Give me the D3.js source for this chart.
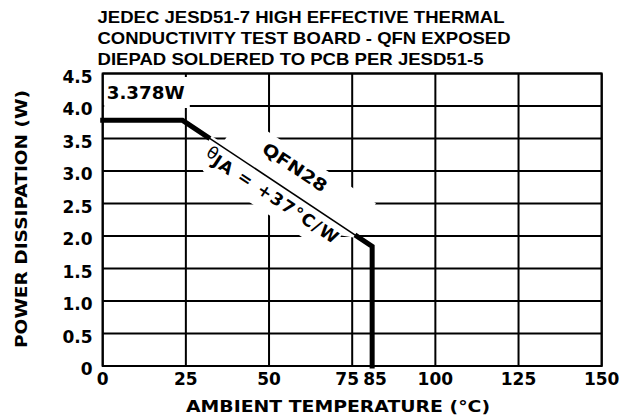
<!DOCTYPE html>
<html>
<head>
<meta charset="utf-8">
<script src="https://cdn.jsdelivr.net/npm/d3@7"></script>
<style>
  html, body { margin: 0; padding: 0; background: #fff; }
  svg { display: block; }
</style>
</head>
<body>
<svg id="chart" width="621" height="420"></svg>
<script>
// ---- data ----
const temps = [0, 24, 81, 81];          // ambient temperature (°C)
const power = [3.78, 3.78, 1.84, 0];    // power dissipation (W)
const xGridValues = [0, 25, 50, 75, 100, 125, 150];
const xLabelValues = [0, 25, 50, 75, 85, 100, 125, 150];
const yTickValues = [0, 0.5, 1.0, 1.5, 2.0, 2.5, 3.0, 3.5, 4.0, 4.5];
const yTickLabels = ["0", "0.5", "1.0", "1.5", "2.0", "2.5", "3.0", "3.5", "4.0", "4.5"];
const titleLines = [
  "JEDEC JESD51-7 HIGH EFFECTIVE THERMAL",
  "CONDUCTIVITY TEST BOARD - QFN EXPOSED",
  "DIEPAD SOLDERED TO PCB PER JESD51-5"
];
const maxLabel = "3.378W";
const packageLabel = "QFN28";
const thetaLabel = { sym: "\u03B8", sub: "JA", rest: " = +37\u00B0C/W" };
const xTitle = "AMBIENT TEMPERATURE (\u00B0C)";
const yTitle = "POWER DISSIPATION (W)";

// ---- layout ----
const svg = d3.select("#chart");
const x = d3.scaleLinear().domain([0, 150]).range([102.7, 601.7]);
const y = d3.scaleLinear().domain([0, 4.5]).range([366, 73.5]);
const tickFont = "'DejaVu Sans', Verdana, sans-serif";
const titleFont = "'Liberation Sans', Arial, Helvetica, sans-serif";

// title
const titleBaselines = [22.7, 44, 65.3];
const titleWidths = [407, 413, 386];
titleLines.forEach((t, i) => {
  svg.append("text")
    .attr("x", 97.5).attr("y", titleBaselines[i])
    .attr("font-family", titleFont).attr("font-weight", "bold")
    .attr("font-size", 17)
    .attr("textLength", titleWidths[i]).attr("lengthAdjust", "spacingAndGlyphs")
    .text(t);
});

// gridlines
const grid = svg.append("g").attr("stroke", "#000").attr("stroke-width", 2);
grid.selectAll("line.h").data(yTickValues).join("line")
  .attr("x1", x(0)).attr("x2", x(150))
  .attr("y1", d => y(d)).attr("y2", d => y(d));
grid.selectAll("line.v").data(xGridValues).join("line")
  .attr("y1", y(0)).attr("y2", y(4.5))
  .attr("x1", d => x(d)).attr("x2", d => x(d));

// white box behind max label
svg.append("rect")
  .attr("x", x(0) + 1.5).attr("y", 77)
  .attr("width", 186 - x(0) + 2.3).attr("height", 31)
  .attr("fill", "#fff");

// thick derating curve
const pts = temps.map((t, i) => [x(t), y(power[i])]);
svg.append("path")
  .attr("d", d3.line()(pts))
  .attr("fill", "none").attr("stroke", "#000")
  .attr("stroke-width", 5).attr("stroke-linecap", "square")
  .attr("stroke-linejoin", "miter");

// slope geometry
const k = pts[1], e = pts[2];
const ang = Math.atan2(e[1] - k[1], e[0] - k[0]) * 180 / Math.PI;
const slopeGroup = svg.append("g")
  .attr("transform", `translate(${k[0]},${k[1]}) rotate(${ang})`);

// white knockout around the slope labels (in rotated frame: u along slope, +v below)
const knock = [[33, -3], [46, -3], [46, -38], [207, -38], [207, 3], [196, 8],
               [196, 31], [45, 31], [33, 3]];
slopeGroup.append("polygon")
  .attr("points", knock.map(p => p.join(",")).join(" "))
  .attr("fill", "#fff");

// thin slope line
svg.append("line")
  .attr("x1", k[0]).attr("y1", k[1]).attr("x2", e[0]).attr("y2", e[1])
  .attr("stroke", "#000").attr("stroke-width", 1.6);

// plot border
svg.append("rect")
  .attr("x", x(0)).attr("y", y(4.5))
  .attr("width", x(150) - x(0)).attr("height", y(0) - y(4.5))
  .attr("fill", "none").attr("stroke", "#000").attr("stroke-width", 2);

// slope labels
slopeGroup.append("text")
  .attr("x", 119.5).attr("y", -17)
  .attr("text-anchor", "middle")
  .attr("font-family", tickFont).attr("font-weight", "bold").attr("font-size", 17)
  .attr("textLength", 74).attr("lengthAdjust", "spacingAndGlyphs")
  .text(packageLabel);

const th = slopeGroup.append("text")
  .attr("x", 38).attr("y", 19.5)
  .attr("font-family", tickFont).attr("font-size", 17);
th.append("tspan").attr("font-weight", "normal").attr("dy", -3).text(thetaLabel.sym);
th.append("tspan").attr("font-weight", "bold").attr("dy", 4).attr("letter-spacing", 1).text(thetaLabel.sub);
th.append("tspan").attr("font-weight", "bold").attr("dy", -1).attr("letter-spacing", 1.6).text(thetaLabel.rest);

// max label
svg.append("text")
  .attr("x", 106.7).attr("y", 98.5)
  .attr("font-family", tickFont).attr("font-weight", "bold").attr("font-size", 17)
  .attr("textLength", 78).attr("lengthAdjust", "spacingAndGlyphs")
  .text(maxLabel);

// y tick labels
svg.append("g").selectAll("text").data(yTickValues).join("text")
  .attr("x", 92.5).attr("y", d => y(d) + 3).attr("dy", "0.36em")
  .attr("text-anchor", "end")
  .attr("font-family", tickFont).attr("font-weight", "bold").attr("font-size", 17)
  .text((d, i) => yTickLabels[i]);

// x tick labels
const nudge = { 75: -5, 85: -10.5 };
svg.append("g").selectAll("text").data(xLabelValues).join("text")
  .attr("x", d => x(d) + (nudge[d] || 0)).attr("y", 385)
  .attr("text-anchor", "middle")
  .attr("font-family", tickFont).attr("font-weight", "bold").attr("font-size", 17)
  .text(d => String(d));

// axis titles
svg.append("text")
  .attr("x", 186).attr("y", 411.5)
  .attr("font-family", tickFont).attr("font-weight", "bold").attr("font-size", 16)
  .attr("textLength", 304).attr("lengthAdjust", "spacingAndGlyphs")
  .text(xTitle);

svg.append("text")
  .attr("transform", "translate(26.5,348) rotate(-90)")
  .attr("font-family", tickFont).attr("font-weight", "bold").attr("font-size", 16)
  .attr("textLength", 258).attr("lengthAdjust", "spacingAndGlyphs")
  .text(yTitle);
</script>
</body>
</html>
